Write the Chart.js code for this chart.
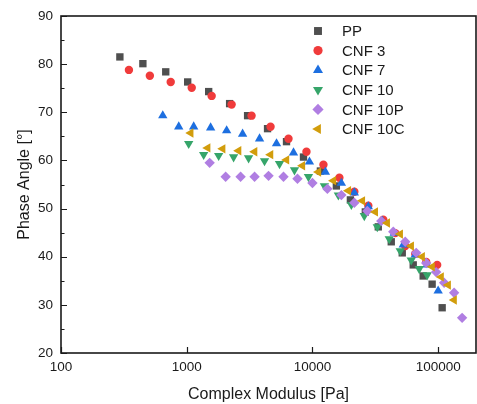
<!DOCTYPE html>
<html lang="en">
<head>
    <meta charset="UTF-8">
    <title>Phase Angle vs Complex Modulus</title>
    <script src="https://cdn.jsdelivr.net/npm/chart.js"></script>
    <style>
        html, body { margin: 0; padding: 0; background: #fff; }
        #wrap { width: 477px; height: 404px; }
    </style>
</head>
<body>
    <div id="wrap"><canvas id="vgpChart" width="477" height="404"></canvas></div>

    <script>
        // values
        const ppModulus = [294, 448, 681, 1018, 1495, 2194, 3050, 4395, 6220, 8490, 11570, 15500, 20040, 26350, 33400, 42360, 51800, 63340, 76030, 89560, 107600];
        const ppAngle   = [81.5, 80.1, 78.4, 76.3, 74.3, 71.8, 69.3, 66.6, 63.9, 60.7, 57.8, 54.7, 51.8, 49.3, 46.2, 43.1, 40.8, 38.3, 36.0, 34.3, 29.4];

        const cnf3Modulus = [347, 509, 746, 1096, 1579, 2276, 3280, 4642, 6449, 8965, 12230, 16380, 21540, 27830, 36600, 45570, 54720, 65700, 80320, 98200];
        const cnf3Angle   = [78.8, 77.6, 76.3, 75.1, 73.4, 71.6, 69.3, 67.0, 64.5, 61.8, 59.1, 56.4, 53.5, 50.6, 47.7, 44.9, 42.2, 40.6, 38.9, 38.3];

        const cnf7Modulus = [645, 864, 1136, 1550, 2078, 2783, 3797, 5179, 7068, 9467, 12680, 16990, 21540, 27830, 35940, 44750, 52770, 65700, 81800, 100000];
        const cnf7Angle   = [69.3, 67.0, 67.0, 66.8, 66.2, 65.5, 64.5, 63.5, 61.6, 59.7, 57.6, 55.3, 53.3, 50.4, 47.4, 44.9, 42.5, 40.4, 38.3, 32.9];

        const cnf10Modulus = [1037, 1364, 1795, 2360, 3105, 4159, 5472, 7197, 9297, 12450, 16080, 20400, 25860, 32800, 40840, 49930, 61060, 70680, 81800];
        const cnf10Angle   = [63.5, 61.2, 61.0, 60.7, 60.5, 59.9, 59.3, 58.0, 56.6, 54.7, 52.8, 50.8, 48.5, 46.2, 43.7, 41.2, 39.3, 37.5, 36.2];

        const cnf10pModulus = [1522, 2040, 2683, 3466, 4476, 5887, 7603, 10000, 13150, 16990, 21540, 27330, 35280, 43950, 54720, 66910, 80320, 96400, 111600, 134000, 155100];
        const cnf10pAngle   = [59.5, 56.6, 56.6, 56.6, 56.8, 56.6, 56.2, 55.3, 54.1, 52.8, 51.2, 49.5, 47.4, 45.2, 43.1, 40.8, 38.7, 36.8, 34.6, 32.5, 27.3];

        const cnf10cModulus = [1076, 1468, 1931, 2586, 3466, 4642, 6220, 8329, 11160, 14680, 19310, 24940, 31620, 39370, 49930, 61060, 74640, 89560, 105600, 120100, 134000];
        const cnf10cAngle   = [65.7, 62.6, 62.4, 62.0, 61.8, 61.2, 60.1, 58.9, 57.6, 55.8, 53.7, 51.6, 49.3, 47.0, 44.7, 42.2, 40.0, 37.9, 35.8, 34.1, 31.0];

        const xTicks = [100, 1000, 10000, 100000];
        const yTicks = [20, 30, 40, 50, 60, 70, 80, 90];

        const FONT = '"Liberation Sans", Arial, sans-serif';
        const INK = '#1a1a1a';

        function pts(xs, ys) {
            return xs.map((x, i) => ({ x: x, y: ys[i] }));
        }

        // name, data, colour, marker, radius, rotation
        const seriesDefs = [
            ['PP',       pts(ppModulus, ppAngle),         '#4f4f4f', 'rect',     5.2, 0],
            ['CNF 3',    pts(cnf3Modulus, cnf3Angle),     '#f03b3b', 'circle',   4.2, 0],
            ['CNF 7',    pts(cnf7Modulus, cnf7Angle),     '#1d6fe0', 'triangle', 5.4, 0],
            ['CNF 10',   pts(cnf10Modulus, cnf10Angle),   '#36a56a', 'triangle', 5.4, 180],
            ['CNF 10P',  pts(cnf10pModulus, cnf10pAngle), '#b07ee2', 'rectRot',  5.2, 0],
            ['CNF 10C',  pts(cnf10cModulus, cnf10cAngle), '#d29d0c', 'triangle', 5.4, 270]
        ];

        const datasets = seriesDefs.map((s, i) => ({
            label: s[0],
            data: s[1],
            backgroundColor: s[2],
            borderColor: s[2],
            borderWidth: 0,
            pointStyle: s[3],
            pointRadius: s[4],
            pointHoverRadius: s[4],
            pointRotation: s[5],
            showLine: false,
            order: seriesDefs.length - i   // later series drawn on top
        }));

        // legend drawn inside the plot, top right
        const insideLegend = {
            id: 'insideLegend',
            afterDatasetsDraw(chart) {
                const ctx = chart.ctx;
                ctx.save();
                ctx.font = '15px ' + FONT;
                ctx.textBaseline = 'middle';
                datasets.forEach((ds, i) => {
                    const y = 31 + i * 19.6;
                    ctx.fillStyle = ds.backgroundColor;
                    ctx.strokeStyle = ds.backgroundColor;
                    Chart.helpers.drawPoint(ctx, {
                        pointStyle: ds.pointStyle,
                        rotation: ds.pointRotation,
                        radius: ds.pointRadius + 0.4,
                        borderWidth: 0
                    }, 318, y);
                    ctx.fillStyle = INK;
                    ctx.fillText(ds.label, 342, y + 1);
                });
                ctx.restore();
            }
        };

        // frame and inward tick marks
        const frameTicks = {
            id: 'frameTicks',
            afterDraw(chart) {
                const ctx = chart.ctx;
                const a = chart.chartArea;
                const xs = chart.scales.x;
                const ys = chart.scales.y;
                ctx.save();
                ctx.strokeStyle = INK;
                ctx.lineWidth = 1.2;
                ctx.beginPath();
                xTicks.forEach(v => {
                    const px = Math.round(xs.getPixelForValue(v)) + 0.5;
                    ctx.moveTo(px, a.bottom);
                    ctx.lineTo(px, a.bottom - 6);
                });
                for (let v = 20; v <= 90; v += 5) {
                    const py = Math.round(ys.getPixelForValue(v)) + 0.5;
                    const len = (v % 10 === 0) ? 6 : 3.5;
                    ctx.moveTo(a.left, py);
                    ctx.lineTo(a.left + len, py);
                }
                ctx.stroke();
                ctx.lineWidth = 1.6;
                ctx.strokeRect(a.left, a.top, a.right - a.left, a.bottom - a.top);
                ctx.restore();
            }
        };

        const ctx = document.getElementById('vgpChart').getContext('2d');
        new Chart(ctx, {
            type: 'scatter',
            data: { datasets: datasets },
            options: {
                responsive: false,
                animation: false,
                layout: { autoPadding: false, padding: { top: 16, right: 1, left: 0, bottom: 0 } },
                plugins: {
                    legend: { display: false },
                    tooltip: { enabled: false }
                },
                scales: {
                    x: {
                        type: 'logarithmic',
                        min: 100,
                        max: 200000,
                        grid: { display: false, drawTicks: false },
                        border: { display: false },
                        afterBuildTicks: (scale) => {
                            scale.ticks = xTicks.map(v => ({ value: v, major: true }));
                        },
                        afterFit: (scale) => {
                            scale.height = 51;
                            scale.paddingLeft = 0;
                            scale.paddingRight = 0;
                        },
                        ticks: {
                            color: INK,
                            font: { family: FONT, size: 13.5 },
                            padding: 6,
                            maxRotation: 0,
                            autoSkip: false,
                            callback: (v) => String(v)
                        },
                        title: {
                            display: true,
                            text: 'Complex Modulus [Pa]',
                            color: INK,
                            font: { family: FONT, size: 16 },
                            padding: { top: 2, bottom: 0 }
                        }
                    },
                    y: {
                        min: 20,
                        max: 90,
                        grid: { display: false, drawTicks: false },
                        border: { display: false },
                        afterBuildTicks: (scale) => {
                            scale.ticks = yTicks.map(v => ({ value: v }));
                        },
                        afterFit: (scale) => {
                            scale.width = 61;
                            scale.paddingTop = 0;
                            scale.paddingBottom = 0;
                        },
                        ticks: {
                            color: INK,
                            font: { family: FONT, size: 13.5 },
                            padding: 8
                        },
                        title: {
                            display: true,
                            text: 'Phase Angle [°]',
                            color: INK,
                            font: { family: FONT, size: 16 },
                            padding: { top: 15, bottom: 0 }
                        }
                    }
                }
            },
            plugins: [insideLegend, frameTicks]
        });
    </script>
</body>
</html>
